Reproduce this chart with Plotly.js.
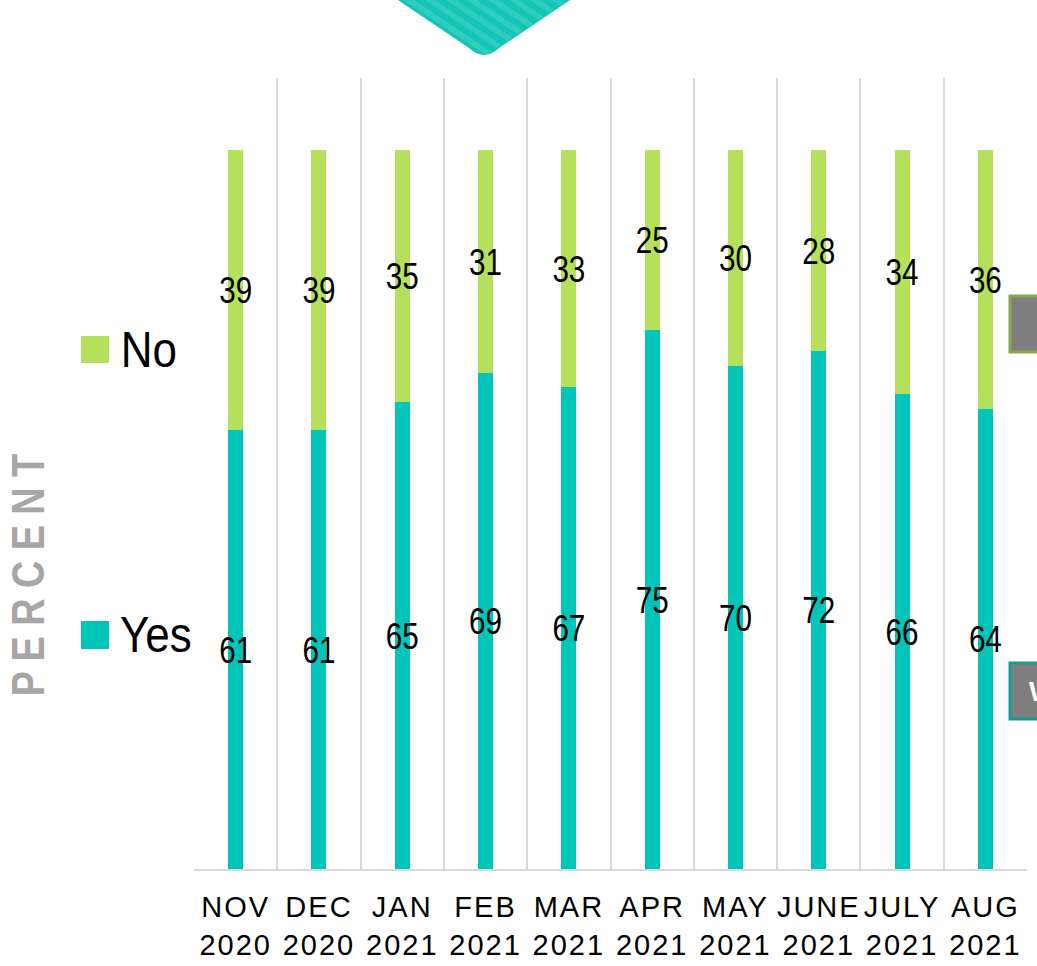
<!DOCTYPE html>
<html>
<head>
<meta charset="utf-8">
<script src="https://cdn.plot.ly/plotly-3.0.1.min.js"></script>
<style>
  html, body { margin: 0; padding: 0; background: #fff; }
  #chart { width: 1037px; height: 966px; }
</style>
</head>
<body>
<div id="chart"></div>
<script>
// ---- Data ----
const categories = ["NOV<br>2020", "DEC<br>2020", "JAN<br>2021", "FEB<br>2021", "MAR<br>2021",
                    "APR<br>2021", "MAY<br>2021", "JUNE<br>2021", "JULY<br>2021", "AUG<br>2021"];
const yesValues = [61, 61, 65, 69, 67, 75, 70, 72, 66, 64];
const noValues  = [39, 39, 35, 31, 33, 25, 30, 28, 34, 36];
const seriesNames = ["Yes", "No"];
const axisTitle = "P E R C E N T";

// ---- Styles ----
const YES_COLOR = "#00c5b8";
const NO_COLOR = "#b5e05c";
const SANS = "'Liberation Sans', Arial, sans-serif";
const W = 1037, H = 966;
const M = { l: 194, r: 10, t: 78, b: 97 };
const PW = W - M.l - M.r, PH = H - M.t - M.b;
const px = x => (x - M.l) / PW;
const py = y => (H - M.b - y) / PH;

const yesLabelY = yesValues.map(v => v / 2);
const noLabelY = yesValues.map((v, i) => v + noValues[i] / 2);

const traces = [
  { type: "bar", name: seriesNames[0], x: categories, y: yesValues, width: 0.18,
    marker: { color: YES_COLOR, line: { width: 0 } }, hoverinfo: "skip", showlegend: false },
  { type: "bar", name: seriesNames[1], x: categories, y: noValues, width: 0.18,
    marker: { color: NO_COLOR, line: { width: 0 } }, hoverinfo: "skip", showlegend: false },
  { type: "scatter", mode: "text", x: categories, y: yesLabelY, text: yesValues.map(String),
    textposition: "middle center", textfont: { family: SANS, size: 37, color: "#000" },
    hoverinfo: "skip", showlegend: false, cliponaxis: false },
  { type: "scatter", mode: "text", x: categories, y: noLabelY, text: noValues.map(String),
    textposition: "middle center", textfont: { family: SANS, size: 37, color: "#000" },
    hoverinfo: "skip", showlegend: false, cliponaxis: false }
];

// ---- Decorative chevron (top) ----
const shapes = [];
function path(points) {
  return "M" + points.map(p => px(p[0]) + "," + py(p[1])).join(" L") + " Z";
}
const chevPath = "M" + px(386) + "," + py(-8) + " L" + px(582) + "," + py(-8) +
  " L" + px(499) + "," + py(48) + " Q" + px(484) + "," + py(62) + " " + px(469) + "," + py(48) + " Z";
shapes.push({ type: "path", xref: "paper", yref: "paper", path: chevPath,
  fillcolor: "#14c5b7", line: { width: 0 }, layer: "above" });
for (let x0 = 392; x0 < 570; x0 += 21) {
  const a = x0, b = x0 + 10;
  const end = s => { const t = (580 - s) / 170; return [s + 85 * t, -8 + 57 * t]; };
  const pts = [[a, -8], [b, -8], end(b), end(a)];
  shapes.push({ type: "path", xref: "paper", yref: "paper", path: path(pts),
    fillcolor: "rgba(80,214,202,0.45)", line: { width: 0 }, layer: "above" });
}

// ---- Legend squares ----
shapes.push({ type: "rect", xref: "paper", yref: "paper", x0: px(81), x1: px(109), y0: py(363), y1: py(336),
  fillcolor: NO_COLOR, line: { width: 0 } });
shapes.push({ type: "rect", xref: "paper", yref: "paper", x0: px(81), x1: px(109), y0: py(649), y1: py(621),
  fillcolor: YES_COLOR, line: { width: 0 } });

// ---- Right-edge callout boxes (cut off) ----
shapes.push({ type: "rect", xref: "paper", yref: "paper", x0: px(1010), x1: px(1060), y0: py(352), y1: py(296),
  fillcolor: "#7f7f7f", line: { width: 3, color: "#86a84a" }, layer: "above" });
shapes.push({ type: "rect", xref: "paper", yref: "paper", x0: px(1010), x1: px(1060), y0: py(719), y1: py(663),
  fillcolor: "#7f7f7f", line: { width: 3, color: "#149e92" }, layer: "above" });

const annotations = [
  { xref: "paper", yref: "paper", x: px(115), y: py(350), xanchor: "left", yanchor: "middle",
    text: seriesNames[1], showarrow: false, font: { family: SANS, size: 50, color: "#000" } },
  { xref: "paper", yref: "paper", x: px(113), y: py(635), xanchor: "left", yanchor: "middle",
    text: seriesNames[0], showarrow: false, font: { family: SANS, size: 50, color: "#000" } },
  { xref: "paper", yref: "paper", x: px(28), y: py(575), xanchor: "center", yanchor: "middle",
    textangle: -90, text: axisTitle, showarrow: false,
    font: { family: SANS, size: 46, color: "#a6a6a6", weight: "bold" } },
  { xref: "paper", yref: "paper", x: px(1027), y: py(691), xanchor: "left", yanchor: "middle",
    text: "<b>W</b>", showarrow: false, font: { family: SANS, size: 28, color: "#fff" } }
];

const layout = {
  width: W, height: H,
  margin: M,
  paper_bgcolor: "#fff", plot_bgcolor: "#fff",
  barmode: "stack",
  showlegend: false,
  hovermode: false,
  xaxis: {
    type: "category", range: [-0.5, 9.5], tickson: "boundaries",
    showgrid: true, gridcolor: "#d9d9d9", gridwidth: 2,
    showline: true, linecolor: "#d9d9d9", linewidth: 2,
    ticks: "", tickangle: 0, ticklabelstandoff: 11, automargin: false,
    tickfont: { family: SANS, size: 29, color: "#000" },
    fixedrange: true
  },
  yaxis: {
    range: [0, 110], showgrid: false, zeroline: false, showticklabels: false, showline: false,
    ticks: "", fixedrange: true
  },
  shapes: shapes,
  annotations: annotations,
  font: { family: SANS }
};

// horizontally condense a text element around its anchor (mimics a narrow typeface)
function condense(el, s, dy) {
  const x = parseFloat(el.getAttribute("x")) || 0;
  el.setAttribute("transform", "translate(" + (x * (1 - s)) + "," + (dy || 0) + ") scale(" + s + ",1)");
}

Plotly.newPlot("chart", traces, layout, { displayModeBar: false, staticPlot: true }).then(gd => {
  gd.querySelectorAll(".textpoint text").forEach(el => condense(el, 0.8, 4));
  gd.querySelectorAll(".annotation-text-g text").forEach(el => {
    const t = el.textContent;
    if (t === "No" || t === "Yes") condense(el, 0.88, 0);
    else if (t === axisTitle) condense(el, 0.82, 0);
  });
  gd.querySelectorAll(".xtick text").forEach(el => { el.style.letterSpacing = "2px"; });
});
</script>
</body>
</html>
